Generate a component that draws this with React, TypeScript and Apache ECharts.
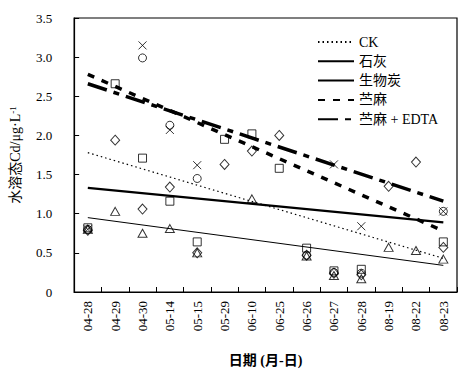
import React, { useEffect, useRef } from "react";
import * as echarts from "echarts";

const categories = ["04-28", "04-29", "04-30", "05-14", "05-15", "05-29", "06-10", "06-25", "06-26", "06-27", "06-28", "08-19", "08-22", "08-23"];

// measured points (null = no point)
const ckPoints = [0.82, 2.66, 1.71, 1.16, 0.64, 1.95, 2.02, 1.58, 0.56, 0.27, 0.29, null, null, 0.64];
const limePoints = [0.79, 1.94, 1.06, 1.34, 0.5, 1.63, 1.8, 2.0, 0.47, 0.24, 0.22, 1.35, 1.66, 0.57];
const biocharPoints = [0.8, 1.03, 0.75, 0.81, 0.5, null, 1.19, null, 0.46, 0.21, 0.17, 0.57, 0.53, 0.42];
const ramiePoints = [0.8, null, 3.15, 2.07, 1.62, null, null, null, null, 1.63, 0.84, null, null, 1.03];
const edtaPoints = [0.8, null, 2.99, 2.13, 1.45, null, null, null, 0.47, 0.25, 0.24, null, null, 1.03];

// trend lines: value at first and last category
const seriesNames = ["CK", "石灰", "生物炭", "苎麻", "苎麻 + EDTA"];
const trendStart = [1.78, 1.33, 0.95, 2.78, 2.66];
const trendEnd = [0.43, 0.89, 0.34, 0.78, 1.16];

const yTicks = [0, 0.5, 1.0, 1.5, 2.0, 2.5, 3.0, 3.5];

const FONT = "Liberation Serif, Times New Roman, DejaVu Serif, Noto Sans CJK SC, serif";

export default function App() {
  const ref = useRef<HTMLDivElement>(null);
  useEffect(() => {
    if (!ref.current) return;
    const chart = echarts.init(ref.current, undefined, { renderer: "svg" });
    const last = categories.length - 1;
    const trendData = (i: number) => categories.map((_, k) => (k === 0 ? trendStart[i] : k === last ? trendEnd[i] : null));
    const pts = (arr: (number | null)[]) => arr.map((v) => (v == null ? "-" : v));

    const lineStyles: any[] = [
      { width: 1.2, type: [1.5, 3] },
      { width: 2.2, type: "solid" },
      { width: 1, type: "solid" },
      { width: 3.5, type: [7, 8] },
      { width: 3.5, type: [20, 7, 6, 7] },
    ];

    const trendSeries = seriesNames.map((name, i) => ({
      name,
      type: "line",
      data: trendData(i),
      connectNulls: true,
      symbol: "none",
      showSymbol: false,
      lineStyle: { color: "#000", ...lineStyles[i] },
      itemStyle: { color: "#000" },
      z: 2,
    }));

    const markerStyle = { color: "transparent", borderColor: "#000", borderWidth: 1 };
    const scatter = (name: string, data: (number | null)[], symbol: string, size: any) => ({
      name,
      type: "scatter",
      data: pts(data),
      symbol,
      symbolSize: size,
      itemStyle: markerStyle,
      z: 3,
    });

    const txt = { fontFamily: FONT, color: "#000" };

    chart.setOption({
      animation: false,
      backgroundColor: "#fff",
      textStyle: { fontFamily: FONT },
      grid: { left: 67, right: 16, top: 18, bottom: 79, show: true, borderColor: "#000", borderWidth: 1.2, containLabel: false },
      legend: {
        data: seriesNames,
        orient: "vertical",
        left: 317,
        top: 35,
        padding: 0,
        itemWidth: 36,
        itemHeight: 13,
        itemGap: 5.3,
        itemStyle: { opacity: 0 },
        textStyle: { ...txt, fontSize: 14 },
      },
      xAxis: {
        type: "category",
        data: categories,
        boundaryGap: true,
        name: "日期 (月-日)",
        nameLocation: "middle",
        nameGap: 61,
        nameTextStyle: { ...txt, fontSize: 14, fontWeight: "bold" },
        axisLine: { lineStyle: { color: "#000", width: 1.2 } },
        axisTick: { show: true, inside: true, length: 5, alignWithLabel: false, lineStyle: { color: "#000" } },
        axisLabel: { rotate: 90, margin: 9, ...txt, fontSize: 13, interval: 0 },
        splitLine: { show: false },
      },
      yAxis: {
        type: "value",
        min: 0,
        max: 3.5,
        interval: 0.5,
        name: "{n|水溶态Cd/μg·L}{sup|-1}",
        nameLocation: "middle",
        nameGap: 40,
        nameRotate: 90,
        nameTextStyle: {
          ...txt,
          fontSize: 14,
          rich: {
            n: { ...txt, fontSize: 14 },
            sup: { ...txt, fontSize: 9, verticalAlign: "top", lineHeight: 10, padding: [0, 0, 8, 0] },
          },
        },
        axisLine: { show: true, lineStyle: { color: "#000", width: 1.2 } },
        axisTick: { show: true, inside: true, length: 5, lineStyle: { color: "#000" } },
        axisLabel: {
          margin: 22,
          ...txt,
          fontSize: 13,
          formatter: (v: number) => (yTicks.includes(v) ? (v === 0 ? "0" : v.toFixed(1)) : ""),
        },
        splitLine: { show: false },
      },
      series: [
        ...trendSeries,
        scatter("CK点", ckPoints, "rect", [8, 8]),
        scatter("石灰点", limePoints, "diamond", [9, 10]),
        scatter("生物炭点", biocharPoints, "triangle", [9, 8]),
        scatter("苎麻点", ramiePoints, "path://M0,0L10,10M10,0L0,10", [8, 8]),
        scatter("苎麻 + EDTA点", edtaPoints, "circle", [8, 8]),
      ],
    });
    return () => chart.dispose();
  }, []);
  return <div ref={ref} style={{ position: "fixed", left: 0, top: 0, width: 473, height: 372 }} />;
}
